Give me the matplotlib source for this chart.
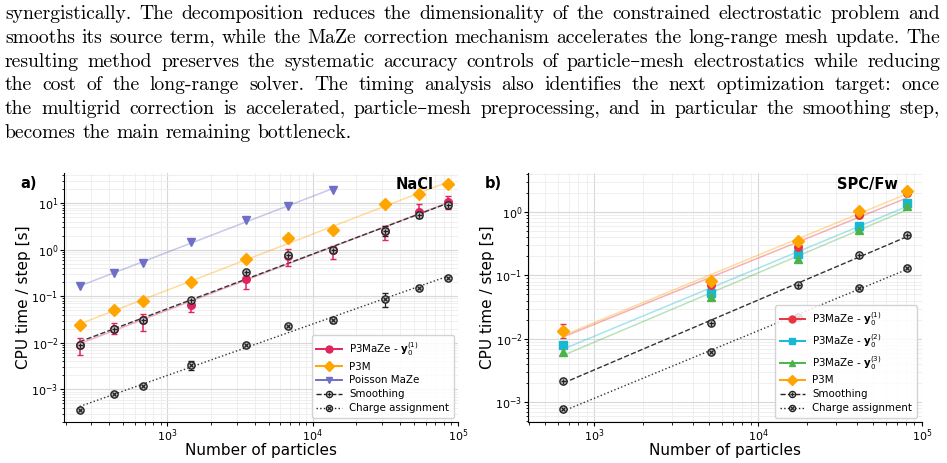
import numpy as np
import matplotlib
matplotlib.use("Agg")
import matplotlib.pyplot as plt
from matplotlib.lines import Line2D
from matplotlib.legend_handler import HandlerTuple

# ---------------- data ----------------
# Panel a: NaCl
nacl_N = [250, 432, 686, 1458, 3456, 6750, 13718, 31250, 54000, 85750]
nacl_p3maze = [0.0092, 0.020, 0.0306, 0.0652, 0.235, 0.743, 0.968, 2.47, 6.41, 10.3]
nacl_p3maze_lo = [0.00535, 0.0151, 0.0178, 0.0463, 0.146, 0.454, 0.631, 1.61, 4.93, 7.43]
nacl_p3maze_hi = [0.0128, 0.027, 0.0425, 0.0838, 0.338, 1.03, 1.22, 3.27, 9.5, 13.9]
nacl_p3m = [0.0239, 0.0509, 0.0794, 0.203, 0.631, 1.81, 2.64, 9.5, 15.8, 25.5]
nacl_poisson_N = [250, 432, 686, 1458, 3456, 6750, 13718]
nacl_poisson = [0.169, 0.311, 0.509, 1.46, 4.25, 8.77, 19.0]
nacl_smooth = [0.0089, 0.020, 0.0306, 0.082, 0.327, 0.756, 1.0, 2.55, 5.62, 9.2]
nacl_smooth_err = [0.0, 0.0, 0.0, 0.0, 0.0, 0.0, 0.1, 0.6, 0.9, 1.5]
nacl_charge = [3.6e-4, 8.07e-4, 1.2e-3, 3.32e-3, 9.06e-3, 0.0224, 0.0311, 0.0891, 0.151, 0.247]
nacl_charge_err = [0.0, 0.0, 0.0, 0.0007, 0.0, 0.0, 0.004, 0.03, 0.015, 0.0]

# Panel b: SPC/Fw
spc_N = [648, 5184, 17496, 41472, 81000]
spc_y1 = [0.0133, 0.0702, 0.281, 0.886, 2.01]
spc_y1_lo = [0.0104, 0.0702, 0.281, 0.886, 2.01]
spc_y1_hi = [0.0169, 0.0702, 0.281, 0.886, 2.01]
spc_y2 = [0.00789, 0.0532, 0.216, 0.595, 1.40]
spc_y3 = [0.00628, 0.0449, 0.180, 0.527, 1.24]
spc_p3m = [0.0133, 0.0802, 0.350, 1.02, 2.11]
spc_smooth = [0.00219, 0.0175, 0.0694, 0.211, 0.425]
spc_charge = [7.77e-4, 6.2e-3, 0.0223, 0.0622, 0.133]

paragraph = [
    "synergistically. The decomposition reduces the dimensionality of the constrained electrostatic problem and",
    "smooths its source term, while the MaZe correction mechanism accelerates the long-range mesh update. The",
    "resulting method preserves the systematic accuracy controls of particle\u2013mesh electrostatics while reducing",
    "the cost of the long-range solver. The timing analysis also identifies the next optimization target: once",
    "the multigrid correction is accelerated, particle\u2013mesh preprocessing, and in particular the smoothing step,",
    "becomes the main remaining bottleneck.",
]

# ---------------- style ----------------
W, H = 947, 463
fig = plt.figure(figsize=(W / 100, H / 100), dpi=100)

C_MAZE_A = "#e0245e"
C_P3M = "#ffa500"
C_POIS = "#6f6fc8"
C_RED = "#e8353f"
C_CYAN = "#17b8d4"
C_GREEN = "#4cb34c"
C_DARK = "#222222"


def fitline(ax, x, y, color, ls="-", alpha=0.38, lw=1.1):
    lx, ly = np.log10(x), np.log10(y)
    p = np.polyfit(lx, ly, 1)
    xx = np.array([min(x), max(x)])
    ax.plot(xx, 10 ** np.polyval(p, np.log10(xx)), color=color, ls=ls,
            alpha=alpha, lw=lw, zorder=2)


def style_axes(ax):
    ax.set_xscale("log")
    ax.set_yscale("log")
    ax.grid(True, which="major", color="#d8d8d8", lw=0.8, zorder=0)
    ax.grid(True, which="minor", color="#ececec", lw=0.6, zorder=0)
    ax.spines["top"].set_visible(False)
    ax.spines["right"].set_visible(False)
    ax.tick_params(labelsize=8, pad=1)
    ax.tick_params(which="major", length=3)
    ax.tick_params(which="minor", length=1.8)
    ax.set_xlabel("Number of particles", fontsize=11, labelpad=-0.5)
    ax.set_ylabel("CPU time / step [s]", fontsize=11, labelpad=0)
    ax.set_axisbelow(True)


def fpos(l, r, t, b):
    return [l / W, 1 - b / H, (r - l) / W, (b - t) / H]


ring_kw = dict(marker="o", ms=5.2, mfc="#bdbdbd", mec=C_DARK, mew=1.0, ls="none", zorder=4)
plus_kw = dict(marker="+", ms=3.6, mec=C_DARK, mew=0.9, ls="none", zorder=5)
cross_kw = dict(marker="x", ms=3.2, mec=C_DARK, mew=0.9, ls="none", zorder=5)
leg_kw = dict(loc="lower right", fontsize=7.4, framealpha=0.85, handlelength=2.5,
              borderpad=0.45, labelspacing=0.38, handletextpad=0.7, borderaxespad=0.4,
              handler_map={tuple: HandlerTuple(ndivide=1)})


def smooth_handle(ls):
    return (Line2D([], [], color=C_DARK, ls=ls, lw=1.0, marker="o", ms=4.5,
                   mfc="#bdbdbd", mec=C_DARK, mew=0.9),
            Line2D([], [], ls="none", marker="+" if ls == "--" else "x",
                   ms=3.0, mec=C_DARK, mew=0.8))


# ---------------- panel a ----------------
ax = fig.add_axes(fpos(64, 458, 173, 422))
style_axes(ax)

fitline(ax, nacl_poisson_N, nacl_poisson, C_POIS)
fitline(ax, nacl_N, nacl_p3m, C_P3M)
fitline(ax, nacl_N, nacl_p3maze, C_MAZE_A)
fitline(ax, nacl_N, nacl_smooth, "#333333", ls="--", alpha=1.0, lw=1.0)
fitline(ax, nacl_N, nacl_charge, "#333333", ls=":", alpha=1.0, lw=1.0)

ax.plot(nacl_poisson_N, nacl_poisson, marker="v", ms=6, color=C_POIS, ls="none", zorder=4)
ax.plot(nacl_N, nacl_p3m, marker="D", ms=5.8, color=C_P3M, ls="none", zorder=4)
y = np.array(nacl_p3maze)
ax.errorbar(nacl_N, y, yerr=[y - np.array(nacl_p3maze_lo), np.array(nacl_p3maze_hi) - y],
            fmt="o", ms=5.5, color=C_MAZE_A, capsize=2.2, elinewidth=1.1, zorder=4)
ax.errorbar(nacl_N, nacl_smooth, yerr=nacl_smooth_err, ecolor=C_DARK, capsize=2,
            elinewidth=0.9, **ring_kw)
ax.plot(nacl_N, nacl_smooth, **plus_kw)
ax.errorbar(nacl_N, nacl_charge, yerr=nacl_charge_err, ecolor=C_DARK, capsize=2,
            elinewidth=0.9, **ring_kw)
ax.plot(nacl_N, nacl_charge, **cross_kw)

ax.set_xlim(195, 1e5)
ax.set_ylim(2.0e-4, 44)

handles = [
    Line2D([], [], color=C_MAZE_A, marker="o", ms=5, lw=1.4),
    Line2D([], [], color=C_P3M, marker="D", ms=5, lw=1.4),
    Line2D([], [], color=C_POIS, marker="v", ms=5, lw=1.4),
    smooth_handle("--"),
    smooth_handle(":"),
]
labels = [r"P3MaZe - $\mathbf{y}_0^{(1)}$", "P3M", "Poisson MaZe", "Smoothing", "Charge assignment"]
ax.legend(handles, labels, **leg_kw)
ax.text(0.937, 0.985, "NaCl", transform=ax.transAxes, ha="right", va="top",
        fontsize=10.5, fontweight="bold")
fig.text(20 / W, 1 - 183.5 / H, "a)", fontsize=10.5, fontweight="bold", va="center", ha="left")

# ---------------- panel b ----------------
bx = fig.add_axes(fpos(528, 922, 173, 422))
style_axes(bx)
fitline(bx, spc_N, spc_p3m, C_P3M)
fitline(bx, spc_N, spc_y1, C_RED)
fitline(bx, spc_N, spc_y2, C_CYAN)
fitline(bx, spc_N, spc_y3, C_GREEN)
fitline(bx, spc_N, spc_smooth, "#333333", ls="--", alpha=1.0, lw=1.0)
fitline(bx, spc_N, spc_charge, "#333333", ls=":", alpha=1.0, lw=1.0)

y1 = np.array(spc_y1)
bx.errorbar(spc_N, y1, yerr=[y1 - np.array(spc_y1_lo), np.array(spc_y1_hi) - y1],
            fmt="o", ms=5.5, color=C_RED, capsize=2.2, elinewidth=1.1, zorder=4)
bx.plot(spc_N, spc_y2, marker="s", ms=5.8, color=C_CYAN, ls="none", zorder=4)
bx.plot(spc_N, spc_y3, marker="^", ms=6, color=C_GREEN, ls="none", zorder=4)
bx.plot(spc_N, spc_p3m, marker="D", ms=5.8, color=C_P3M, ls="none", zorder=5)
bx.plot(spc_N, spc_smooth, **ring_kw)
bx.plot(spc_N, spc_smooth, **plus_kw)
bx.plot(spc_N, spc_charge, **ring_kw)
bx.plot(spc_N, spc_charge, **cross_kw)
bx.set_xlim(395, 1e5)
bx.set_ylim(4.9e-4, 4.1)

handles_b = [
    Line2D([], [], color=C_RED, marker="o", ms=5, lw=1.4),
    Line2D([], [], color=C_CYAN, marker="s", ms=5, lw=1.4),
    Line2D([], [], color=C_GREEN, marker="^", ms=5, lw=1.4),
    Line2D([], [], color=C_P3M, marker="D", ms=5, lw=1.4),
    smooth_handle("--"),
    smooth_handle(":"),
]
labels_b = [r"P3MaZe - $\mathbf{y}_0^{(1)}$", r"P3MaZe - $\mathbf{y}_0^{(2)}$",
            r"P3MaZe - $\mathbf{y}_0^{(3)}$", "P3M", "Smoothing", "Charge assignment"]
bx.legend(handles_b, labels_b, bbox_to_anchor=(0.998, 0.0), **leg_kw)
bx.text(0.939, 0.985, "SPC/Fw", transform=bx.transAxes, ha="right", va="top",
        fontsize=10.5, fontweight="bold")
fig.text(485 / W, 1 - 183.5 / H, "b)", fontsize=10.5, fontweight="bold", va="center", ha="left")

# ---------------- paragraph (justified) ----------------
fam = ["cmr10", "DejaVu Serif"]
fs = 14.2
left_px, right_px = 5, 940
base0, lsp = 19.0, 23.8
renderer = fig.canvas.get_renderer()


def text_w(s):
    t = fig.text(0, 0, s, family=fam, fontsize=fs)
    w = t.get_window_extent(renderer).width
    t.remove()
    return w


space_w = text_w("a b") - text_w("ab")
for i, line in enumerate(paragraph):
    words = line.split(" ")
    yb = 1 - (base0 + i * lsp) / H
    texts = [fig.text(0, yb, w, family=fam, fontsize=fs, va="baseline", ha="left") for w in words]
    widths = [t.get_window_extent(renderer).width for t in texts]
    if i < len(paragraph) - 1:
        gap = (right_px - left_px - sum(widths)) / (len(words) - 1)
    else:
        gap = space_w
    x = left_px
    for t, w in zip(texts, widths):
        t.set_x(x / W)
        x += w + gap

fig.savefig("out.png", dpi=100)
